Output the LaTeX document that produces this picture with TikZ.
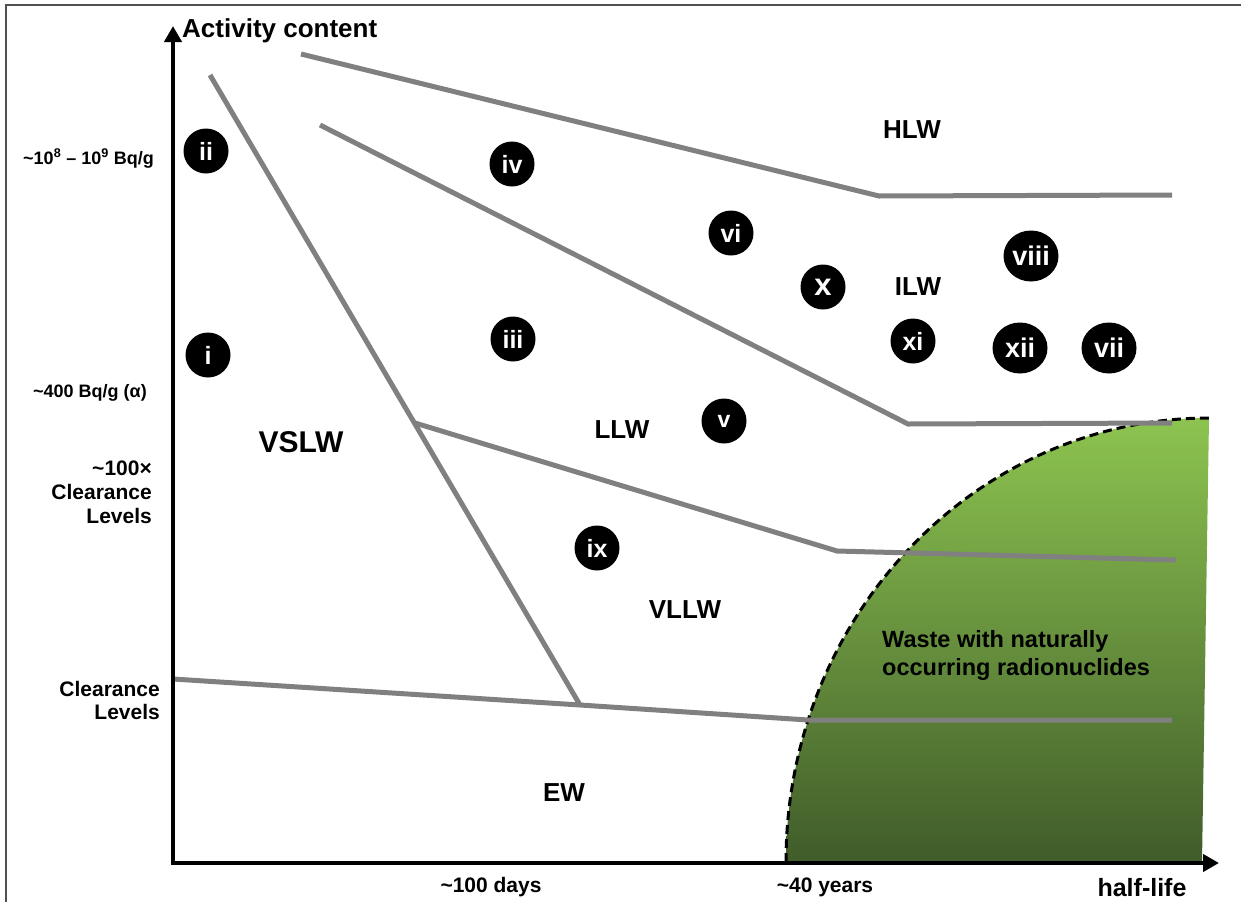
\documentclass[tikz,border=0pt]{standalone}
\usepackage{fontspec}
\setmainfont{Liberation Sans}
\usetikzlibrary{arrows.meta,shapes.geometric}
\definecolor{gline}{RGB}{128,128,128}
\definecolor{framec}{RGB}{80,80,80}
\definecolor{gtop}{RGB}{141,196,80}
\definecolor{gmid}{RGB}{112,160,66}
\definecolor{gbot}{RGB}{64,92,42}
\newcommand{\myfs}[1]{\fontsize{#1}{#1}\selectfont\bfseries}
\begin{document}
\begin{tikzpicture}[x=1pt,y=-1pt,
  boundary/.style={draw=gline,line width=5pt},
  axisline/.style={line width=4pt,{Triangle[length=16pt,width=17pt]}-{Triangle[length=16pt,width=17pt]}},
  badge/.style={circle,fill=black,text=white,inner sep=0pt,minimum size=45pt,font=\myfs{25}},
  bigbadge/.style={ellipse,fill=black,text=white,inner sep=0pt,minimum width=55pt,minimum height=51pt,font=\myfs{27}},
  region/.style={inner sep=0pt,font=\myfs{26}},
  ylabel/.style={inner sep=0pt,align=right},
  xlabel/.style={inner sep=0pt,anchor=base,font=\myfs{21}},
]
\useasboundingbox (0,0) rectangle (1241,902);
% frame
\draw[framec,line width=2.5pt] (6,902) -- (6,5) -- (1241,5);

% green region
\coordinate (g0) at (786,862);
\coordinate (g1) at (1209,418);
\coordinate (g2) at (1202,862);
\shade[top color=gtop,middle color=gmid,bottom color=gbot] (g0) .. controls (786,617) and (975,418) .. (g1) -- (g2) -- cycle;
\draw[dash pattern=on 9pt off 5pt,line width=3pt] (g0) .. controls (786,617) and (975,418) .. (g1);

% boundary vertices
\coordinate (h1) at (301,54);
\coordinate (h2) at (879,196);
\coordinate (h3) at (1172,195);
\coordinate (m1) at (320,125);
\coordinate (m2) at (908,424);
\coordinate (m3) at (1172,423);
\coordinate (v1) at (210,75);
\coordinate (v2) at (580,705);
\coordinate (j) at (415,423);
\coordinate (l2) at (837,551);
\coordinate (l3) at (1176,560);
\coordinate (c1) at (173,679);
\coordinate (c3) at (808,720);
\coordinate (c4) at (1172,720);

\draw[boundary] (h1) -- (h2) -- (h3);
\draw[boundary] (m1) -- (m2) -- (m3);
\draw[boundary] (v1) -- (v2);
\draw[boundary] (j) -- (l2) -- (l3);
\draw[boundary] (c1) -- (v2) -- (c3) -- (c4);

% axes
\coordinate (o) at (173,863);
\coordinate (ytip) at (173,26);
\coordinate (xtip) at (1219,863);
\draw[axisline] (ytip) -- (o) -- (xtip);

% badges
\node[badge] (bii) at (206,151) {ii};
\node[badge] (bi) at (208,355) {i};
\node[badge] (biv) at (512,164) {iv};
\node[badge] (bvi) at (731,233) {vi};
\node[badge,font=\myfs{31}] (bx) at (823,287) {x};
\node[bigbadge] (bviii) at (1031,256) {viii};
\node[badge] (biii) at (513,339) {iii};
\node[badge] (bxi) at (913,341) {xi};
\node[bigbadge] (bxii) at (1020,348) {xii};
\node[bigbadge] (bvii) at (1109,348) {vii};
\node[badge,font=\myfs{23}] (bv) at (724,421) {v};
\node[badge] (bix) at (597,548) {ix};

% region labels
\node[region] (hlw) at (912,130) {HLW};
\node[region] (ilw) at (918,287) {ILW};
\node[region] (llw) at (622,430) {LLW};
\node[region] (vllw) at (685,610) {VLLW};
\node[region] (ew) at (564,793) {EW};
\node[region,font=\myfs{30}] (vslw) at (301,442) {VSLW};
\node[inner sep=0pt,anchor=north west,align=left,font=\fontsize{23.5}{28}\selectfont\bfseries] (norm) at (882,630) {Waste with naturally\\occurring radionuclides};

% axis labels
\node[inner sep=0pt,anchor=base west,font=\myfs{26}] (ytitle) at (182,37) {Activity content};
\node[xlabel,font=\myfs{25}] (xtitle) at (1142,896) {half-life};
\node[xlabel] (d100) at (491,892) {\textasciitilde100 days};
\node[xlabel] (y40) at (825,892) {\textasciitilde40 years};

\node[ylabel,anchor=base east,font=\myfs{18}] (lhi) at (154,164) {\textasciitilde10\textsuperscript{8} \textendash\ 10\textsuperscript{9} Bq/g};
\node[ylabel,anchor=base east,font=\myfs{18}] (lalpha) at (147,397) {\textasciitilde400 Bq/g (α)};
\node[ylabel,anchor=east,font=\fontsize{21}{24}\selectfont\bfseries] (lcl100) at (152,492) {\textasciitilde100×\\Clearance\\Levels};
\node[ylabel,anchor=east,font=\fontsize{21}{23}\selectfont\bfseries] (lcl) at (160,700) {Clearance\\Levels};
\end{tikzpicture}
\end{document}
